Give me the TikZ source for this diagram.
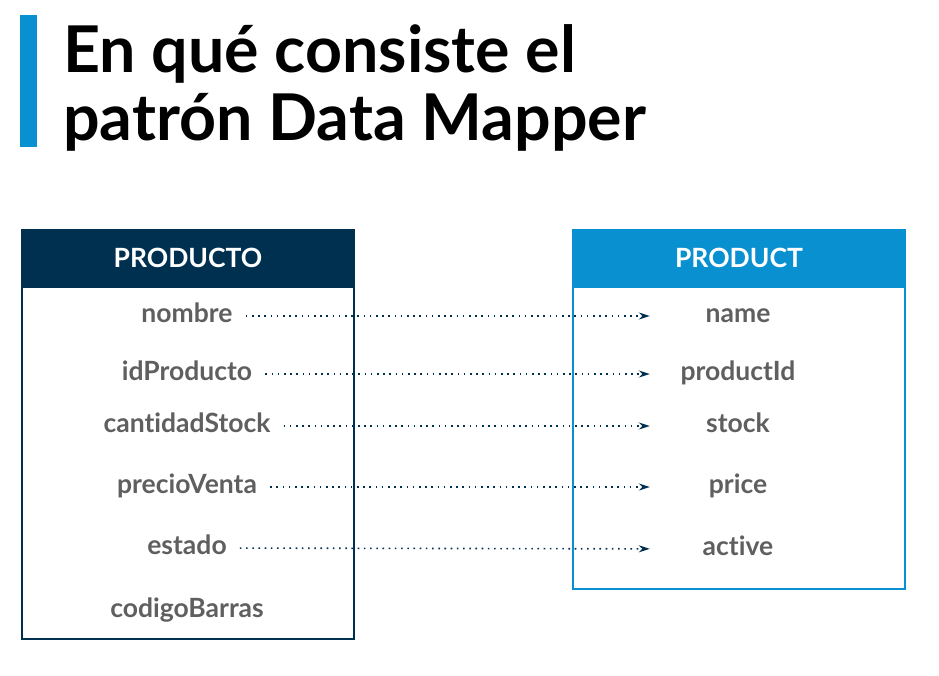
\documentclass[tikz,border=0pt]{standalone}
\usepackage{fontspec}
\setmainfont{Lato}[Ligatures=NoCommon]
\usepackage{xcolor}
\usepackage{tikz}
\usetikzlibrary{arrows.meta,positioning}

\definecolor{navy}{RGB}{0,48,80}
\definecolor{skyblue}{RGB}{8,144,208}
\definecolor{labelgray}{RGB}{95,95,95}

\begin{document}
\begin{tikzpicture}[
    x=1pt, y=-1pt,
    title/.style={font=\fontsize{64.5}{68}\selectfont\bfseries, inner sep=0pt, anchor=base west},
    head/.style={draw=#1, fill=#1, line width=2pt, minimum width=332pt, minimum height=55pt,
                 inner sep=0pt, anchor=north west, text=white, font=\fontsize{26.5}{28}\selectfont\bfseries},
    body/.style={draw=#1, line width=2pt, minimum width=332pt, inner sep=0pt, below=0pt of #1head},
    field/.style={font=\fontsize{26.5}{28}\selectfont\bfseries, text=labelgray, anchor=base,
                  text height=12pt, text depth=0pt, inner xsep=13pt},
    target/.style={field, inner xsep=0pt, minimum width=166pt},
    maparrow/.style={-{Stealth[length=11pt, width=7pt]}, color=navy, line width=1.6pt,
                     dash pattern=on 1.6pt off 4.6pt, shorten >=5pt}
]

\useasboundingbox (0,0) rectangle (939,675);

%% Title
\fill[skyblue] (20,15) rectangle (37,147);
\node[title] (title1) at (63,72) {En qué consiste el};
\node[title] (title2) at (63,140) {patrón Data Mapper};

%% Spanish entity
\node[head=navy] (navyhead) at (21,229) {PRODUCTO};
\node[body=navy, minimum height=352pt] (prodbody) {};

\node[field] (nombre) at (187,322) {nombre};
\node[field] (idProducto) at (187,380) {idProducto};
\node[field] (cantidadStock) at (187,432) {cantidadStock};
\node[field] (precioVenta) at (187,493) {precioVenta};
\node[field] (estado) at (187,554) {estado};
\node[field] (codigoBarras) at (187,617) {codigoBarras};

%% English entity
\node[head=skyblue] (skybluehead) at (572,229) {PRODUCT};
\node[body=skyblue, minimum height=302pt] (productbody) {};

\node[target] (name) at (738,322) {name};
\node[target] (productId) at (738,380) {productId};
\node[target] (stock) at (738,432) {stock};
\node[target] (price) at (738,493) {price};
\node[target] (active) at (738,555) {active};

%% Mappings
\draw[maparrow] (nombre) -- (name);
\draw[maparrow] (idProducto) -- (productId);
\draw[maparrow] (cantidadStock) -- (stock);
\draw[maparrow] (precioVenta) -- (price);
\draw[maparrow] (estado) -- (active);

\end{tikzpicture}
\end{document}
